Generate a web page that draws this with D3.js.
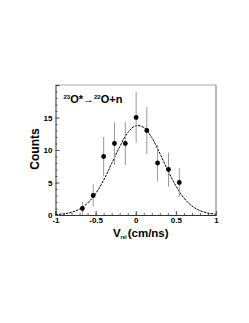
<!DOCTYPE html>
<html>
<head>
<meta charset="utf-8">
<script src="https://cdn.jsdelivr.net/npm/d3@7"></script>
<style>
  body { margin: 0; background: #fff; }
  svg { display: block; font-family: "Liberation Sans", Arial, sans-serif; }
  .tick text { font-weight: bold; font-size: 8px; fill: #000; }
</style>
</head>
<body>
<div id="chart"></div>
<script>
// Data
var vrel = [-0.665, -0.53, -0.40, -0.265, -0.13, 0.005, 0.138, 0.272, 0.408, 0.543];
var counts = [1, 3, 9, 11, 11, 15, 13, 8, 7, 5];
var errs = [1.0, 1.7, 3.0, 3.3, 3.3, 3.9, 3.6, 2.8, 2.6, 2.2];

// fit curve
var fitX = [-1, -0.9, -0.8, -0.7, -0.6, -0.5, -0.4, -0.3, -0.2, -0.1, 0, 0.1, 0.2, 0.3, 0.4, 0.5, 0.6, 0.7, 0.8, 0.9, 1];
var fitY = [0.06, 0.17, 0.41, 0.91, 1.83, 3.3, 5.37, 7.92, 10.5, 12.66, 13.74, 13.46, 11.9, 9.5, 6.86, 4.47, 2.62, 1.39, 0.67, 0.29, 0.11];

var xTicks = [-1, -0.5, 0, 0.5, 1];
var yTicks = [0, 5, 10, 15];

// Chart params
var svgWidth = 249;
var svgHeight = 323;
var margin = {top: 85, right: 33, bottom: 108, left: 55.5};
var width = svgWidth - margin.left - margin.right;
var height = svgHeight - margin.top - margin.bottom;

var svg = d3.select("#chart")
    .append("svg")
    .attr("width", svgWidth)
    .attr("height", svgHeight);

var chartGroup = svg.append("g")
    .attr("transform", `translate(${margin.left}, ${margin.top})`);

var x = d3.scaleLinear().domain([-1, 1]).range([0, width]);
var y = d3.scaleLinear().domain([0, 20]).range([height, 0]);

// frame top / right
chartGroup.append("line")
    .attr("x1", 0).attr("x2", width).attr("y1", 0).attr("y2", 0)
    .attr("stroke", "#aaa");
chartGroup.append("line")
    .attr("x1", width).attr("x2", width).attr("y1", 0).attr("y2", height)
    .attr("stroke", "#777");

// minor ticks
chartGroup.append("g")
    .attr("transform", `translate(0, ${height})`)
    .call(d3.axisBottom(x).tickValues(d3.range(-10, 11).map(d => d / 10)).tickSize(-2).tickFormat(""))
    .call(g => g.select(".domain").remove())
    .selectAll("line").attr("stroke", "#666");
chartGroup.append("g")
    .call(d3.axisLeft(y).tickValues(d3.range(0, 21)).tickSize(-2).tickFormat(""))
    .call(g => g.select(".domain").remove())
    .selectAll("line").attr("stroke", "#666");

// major axes
var bottomAxis = d3.axisBottom(x).tickValues(xTicks).tickSize(-4).tickPadding(2)
    .tickFormat(d => d3.format("")(d).replace("−", "-"));
var leftAxis = d3.axisLeft(y).tickValues(yTicks).tickSize(-4).tickPadding(3);

var gx = chartGroup.append("g")
    .attr("transform", `translate(0, ${height})`)
    .call(bottomAxis);
gx.select(".domain").attr("stroke", "#333");
gx.selectAll(".tick line").attr("stroke", "#555");

var gy = chartGroup.append("g")
    .call(leftAxis);
gy.select(".domain").attr("stroke", "#333");
gy.selectAll(".tick line").attr("stroke", "#555");

// fit curve
var line = d3.line()
    .x((d, i) => x(fitX[i]))
    .y(d => y(d))
    .curve(d3.curveCatmullRom);

chartGroup.append("path")
    .datum(fitY)
    .attr("d", line)
    .attr("fill", "none")
    .attr("stroke", "#000")
    .attr("stroke-width", 1)
    .attr("stroke-dasharray", "2.5,1");

// error bars
chartGroup.selectAll(".err")
    .data(counts)
    .enter()
    .append("line")
    .attr("class", "err")
    .attr("x1", (d, i) => x(vrel[i]))
    .attr("x2", (d, i) => x(vrel[i]))
    .attr("y1", (d, i) => y(Math.max(0, d - errs[i])))
    .attr("y2", (d, i) => y(d + errs[i]))
    .attr("stroke", "#999")
    .attr("stroke-width", 1);

// points
chartGroup.selectAll("circle")
    .data(counts)
    .enter()
    .append("circle")
    .attr("cx", (d, i) => x(vrel[i]))
    .attr("cy", d => y(d))
    .attr("r", 2.4)
    .attr("fill", "#000");

// reaction label
var lab = chartGroup.append("text")
    .attr("x", 8)
    .attr("y", 18)
    .attr("font-weight", "bold")
    .attr("font-size", "11px");
lab.append("tspan").attr("font-size", "6px").attr("dy", "-4").text("23");
lab.append("tspan").attr("dy", "4").text("O*");
lab.append("tspan").text("\u2192");
lab.append("tspan").attr("font-size", "6px").attr("dy", "-4").text("22");
lab.append("tspan").attr("dy", "4").text("O+n");

// axes labels
chartGroup.append("text")
    .attr("transform", "rotate(-90)")
    .attr("x", -(height / 2) + 1)
    .attr("y", -17)
    .attr("text-anchor", "middle")
    .attr("font-weight", "bold")
    .attr("font-size", "12px")
    .text("Counts");

var xl = chartGroup.append("text")
    .attr("x", width / 2 + 5)
    .attr("y", height + 22)
    .attr("text-anchor", "middle")
    .attr("font-weight", "bold")
    .attr("font-size", "11.5px");
xl.append("tspan").text("V");
xl.append("tspan").attr("font-size", "5px").attr("dy", "2").text("rel");
xl.append("tspan").attr("dy", "-2").attr("dx", "1").text("(cm/ns)");
</script>
</body>
</html>
